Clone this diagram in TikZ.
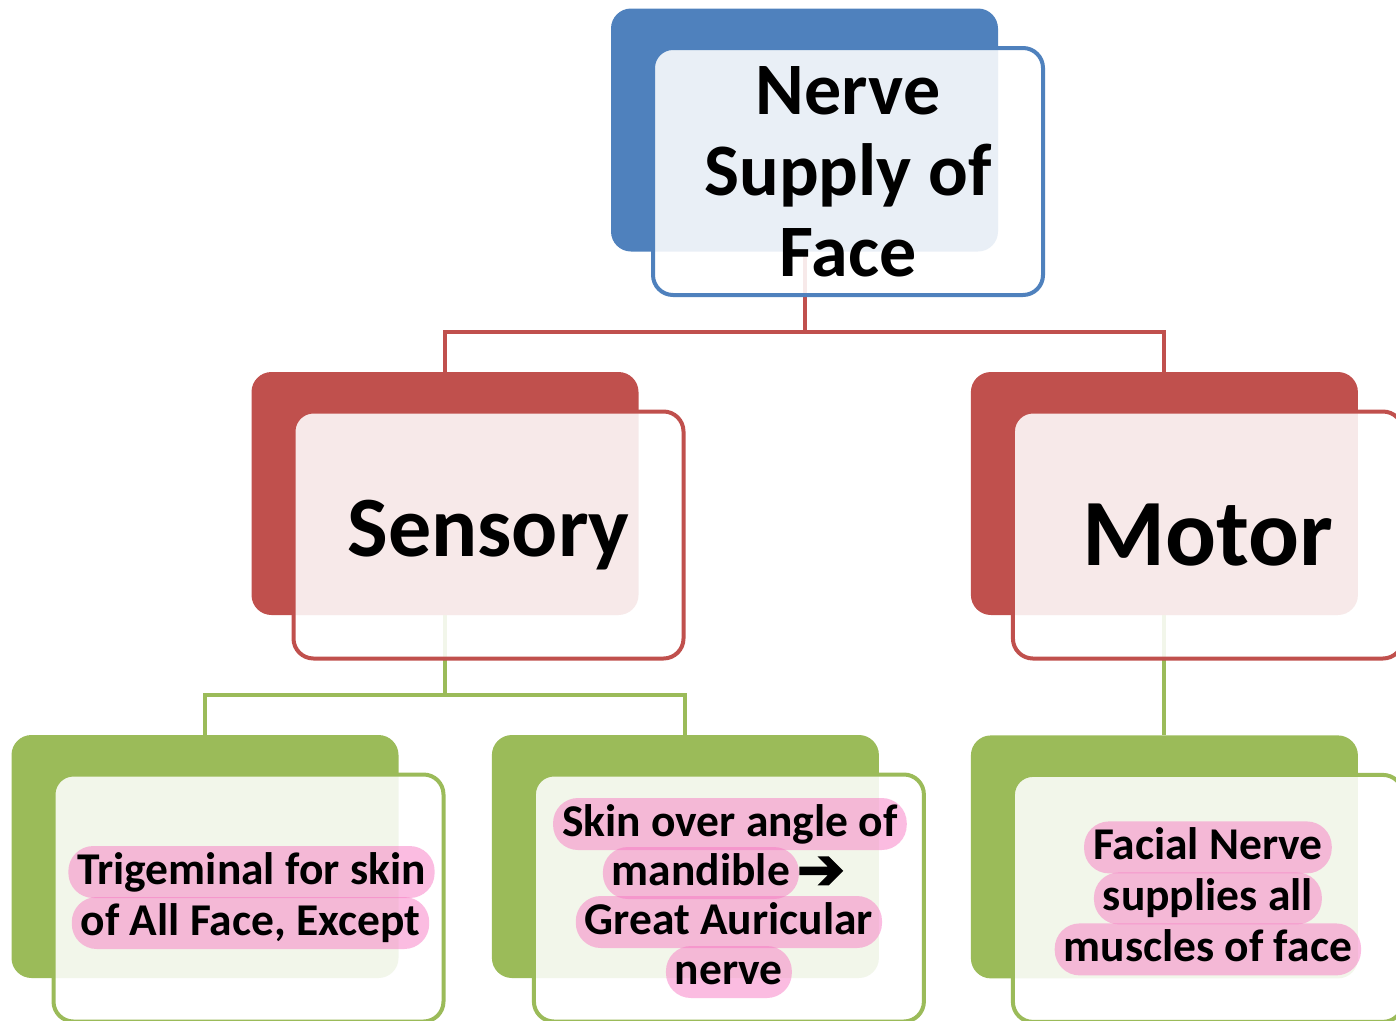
\documentclass[tikz,border=0pt]{standalone}
\usepackage{fontspec}
\setmainfont{Carlito}
\newfontfamily\arrowfont{DejaVu Sans Bold}[FakeBold=3]
\usetikzlibrary{positioning,calc}
\definecolor{nerveblue}{HTML}{4F81BD}
\definecolor{nervered}{HTML}{C0504D}
\definecolor{nervegreen}{HTML}{9BBB59}
\definecolor{hlpink}{HTML}{F873C1}
\pgfdeclarelayer{links}
\pgfsetlayers{links,main}
\tikzset{
	backcard/.style={fill=#1,rounded corners=20pt,minimum width=387pt,minimum height=243pt,inner sep=0pt},
	card/.style={draw=#1,line width=4pt,fill=white,fill opacity=0.88,text opacity=1,rounded corners=20pt,
		minimum width=390pt,minimum height=247pt,inner sep=0pt,align=center},
	nervelink/.style={draw=#1,line width=4pt},
	hilite/.style={fill=hlpink,fill opacity=0.47,text opacity=1,rounded corners=25pt,minimum height=52pt,
		inner xsep=9pt,inner ysep=0pt,outer sep=0pt,text height=34pt,text depth=9pt,
		font=\bfseries\fontsize{45.5}{50}\selectfont}
}

\begin{document}
\begin{tikzpicture}[x=1pt,y=-1pt]
	\useasboundingbox (0,0) rectangle (1396,1020);
	
	% top
	\node[backcard=nerveblue] (faceb) at (804.5,130) {};
	\node[card=nerveblue,font=\bfseries\fontsize{74}{81}\selectfont] (face) at ([shift={(43.5,41.5)}]faceb.center) {Nerve\\Supply of\\Face};
	
	% second row
	\node[backcard=nervered] (sensb) at (445,493.5) {};
	\node[card=nervered,font=\bfseries\fontsize{86}{90}\selectfont] (sens) at ([shift={(43.5,41.5)}]sensb.center) {Sensory};
	\node[backcard=nervered] (motorb) [right=332pt of sensb] {};
	\node[card=nervered,font=\bfseries\fontsize{95}{96}\selectfont] (motor) at ([shift={(43.5,41.5)}]motorb.center) {Motor};
	
	% third row
	\node[backcard=nervegreen] (trigb) at (205,856.5) {};
	\node[card=nervegreen] (trig) at ([shift={(43.5,41.5)}]trigb.center) {};
	\node[backcard=nervegreen] (auricb) [right=93pt of trigb] {};
	\node[card=nervegreen] (auric) at ([shift={(43.5,41.5)}]auricb.center) {};
	\node[backcard=nervegreen] (facialb) [below=120pt of motorb] {};
	\node[card=nervegreen] (facial) at ([shift={(43.5,41.5)}]facialb.center) {};
	
	\node[hilite] (trig1) at ([shift={(3,-26)}]trig.center) {Trigeminal for skin};
	\node[hilite] (trig2) at ([shift={(2,25)}]trig.center) {of All Face, Except};
	
	\node[hilite] (auric1) at ([shift={(1,-74)}]auric.center) {Skin over angle of};
	\node[hilite] (auric2) at ([shift={(-28,-25)}]auric.center) {mandible};
	\node[inner sep=0pt,font=\arrowfont\fontsize{57}{57}\selectfont] (arrow) [right=-2pt of auric2] {➔};
	\node[hilite] (auric3) at ([shift={(0,24)}]auric.center) {Great Auricular};
	\node[hilite] (auric4) at ([shift={(0,74)}]auric.center) {nerve};
	
	\node[hilite] (facial1) at ([shift={(0,-51)}]facial.center) {Facial Nerve};
	\node[hilite] (facial2) at ([shift={(0,0)}]facial.center) {supplies all};
	\node[hilite] (facial3) at ([shift={(0,51)}]facial.center) {muscles of face};
	
	\begin{pgfonlayer}{links}
		\draw[nervelink=nervered] (faceb.center) |- ([yshift=40pt]sensb.north) -- (sensb.north);
		\draw[nervelink=nervered] (faceb.center) |- ([yshift=40pt]motorb.north) -- (motorb.north);
		\draw[nervelink=nervegreen] (sensb.center) |- ([yshift=40pt]trigb.north) -- (trigb.north);
		\draw[nervelink=nervegreen] (sensb.center) |- ([yshift=40pt]auricb.north) -- (auricb.north);
		\draw[nervelink=nervegreen] (motorb.center) -- (facialb.north);
	\end{pgfonlayer}
\end{tikzpicture}
\end{document}
